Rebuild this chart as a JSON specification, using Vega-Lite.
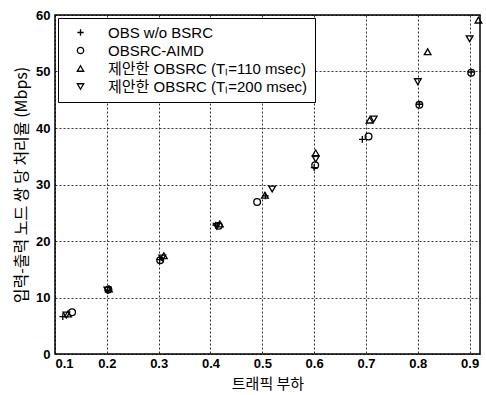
{
  "$schema": "https://vega.github.io/schema/vega-lite/v6.json",
  "autosize": "none",
  "width": 425,
  "height": 339,
  "padding": {"left": 55, "top": 15, "right": 6, "bottom": 41},
  "background": "white",
  "config": {
    "view": {"stroke": "black", "strokeWidth": 1.5},
    "font": "Liberation Sans, Noto Sans CJK KR"
  },
  "data": {
    "values": [
      {"load": 0.115, "thr": 6.6, "s": "OBS w/o BSRC"},
      {"load": 0.202, "thr": 11.2, "s": "OBS w/o BSRC"},
      {"load": 0.302, "thr": 16.7, "s": "OBS w/o BSRC"},
      {"load": 0.41, "thr": 22.8, "s": "OBS w/o BSRC"},
      {"load": 0.506, "thr": 28.0, "s": "OBS w/o BSRC"},
      {"load": 0.6, "thr": 33.0, "s": "OBS w/o BSRC"},
      {"load": 0.693, "thr": 38.0, "s": "OBS w/o BSRC"},
      {"load": 0.803, "thr": 44.2, "s": "OBS w/o BSRC"},
      {"load": 0.903, "thr": 49.9, "s": "OBS w/o BSRC"},
      {"load": 0.133, "thr": 7.4, "s": "OBSRC-AIMD"},
      {"load": 0.203, "thr": 11.4, "s": "OBSRC-AIMD"},
      {"load": 0.303, "thr": 16.6, "s": "OBSRC-AIMD"},
      {"load": 0.416, "thr": 22.7, "s": "OBSRC-AIMD"},
      {"load": 0.49, "thr": 26.9, "s": "OBSRC-AIMD"},
      {"load": 0.602, "thr": 33.4, "s": "OBSRC-AIMD"},
      {"load": 0.705, "thr": 38.5, "s": "OBSRC-AIMD"},
      {"load": 0.803, "thr": 44.1, "s": "OBSRC-AIMD"},
      {"load": 0.903, "thr": 49.8, "s": "OBSRC-AIMD"},
      {"load": 0.125, "thr": 7.1, "s": "제안한 OBSRC (Tₗ=110 msec)"},
      {"load": 0.204, "thr": 11.5, "s": "제안한 OBSRC (Tₗ=110 msec)"},
      {"load": 0.31, "thr": 17.4, "s": "제안한 OBSRC (Tₗ=110 msec)"},
      {"load": 0.418, "thr": 23.0, "s": "제안한 OBSRC (Tₗ=110 msec)"},
      {"load": 0.505, "thr": 28.1, "s": "제안한 OBSRC (Tₗ=110 msec)"},
      {"load": 0.603, "thr": 35.6, "s": "제안한 OBSRC (Tₗ=110 msec)"},
      {"load": 0.707, "thr": 41.4, "s": "제안한 OBSRC (Tₗ=110 msec)"},
      {"load": 0.819, "thr": 53.5, "s": "제안한 OBSRC (Tₗ=110 msec)"},
      {"load": 0.917, "thr": 59.1, "s": "제안한 OBSRC (Tₗ=110 msec)"},
      {"load": 0.122, "thr": 6.9, "s": "제안한 OBSRC (Tₗ=200 msec)"},
      {"load": 0.201, "thr": 11.3, "s": "제안한 OBSRC (Tₗ=200 msec)"},
      {"load": 0.307, "thr": 17.0, "s": "제안한 OBSRC (Tₗ=200 msec)"},
      {"load": 0.412, "thr": 22.6, "s": "제안한 OBSRC (Tₗ=200 msec)"},
      {"load": 0.519, "thr": 29.2, "s": "제안한 OBSRC (Tₗ=200 msec)"},
      {"load": 0.603, "thr": 34.5, "s": "제안한 OBSRC (Tₗ=200 msec)"},
      {"load": 0.715, "thr": 41.6, "s": "제안한 OBSRC (Tₗ=200 msec)"},
      {"load": 0.8, "thr": 48.2, "s": "제안한 OBSRC (Tₗ=200 msec)"},
      {"load": 0.9, "thr": 55.8, "s": "제안한 OBSRC (Tₗ=200 msec)"}
    ]
  },
  "mark": {"type": "point", "filled": false, "color": "black", "strokeWidth": 1.3, "size": 45, "opacity": 1},
  "encoding": {
    "x": {
      "field": "load", "type": "quantitative",
      "scale": {"domain": [0.1, 0.92], "nice": false, "zero": false},
      "axis": {
        "values": [0.1, 0.2, 0.3, 0.4, 0.5, 0.6, 0.7, 0.8, 0.9],
        "format": ".1f",
        "title": "트래픽 부하",
        "titleFont": "Noto Sans CJK KR", "titleFontWeight": "normal", "titleFontSize": 15, "titleColor": "black", "titlePadding": 6,
        "labelFont": "Liberation Sans", "labelFontWeight": "bold", "labelFontSize": 13, "labelColor": "black", "labelPadding": 3,
        "domain": false, "ticks": false,
        "grid": true, "gridColor": "black", "gridDash": [2, 2], "gridOpacity": 0.8
      }
    },
    "y": {
      "field": "thr", "type": "quantitative",
      "scale": {"domain": [0, 60], "nice": false},
      "axis": {
        "values": [0, 10, 20, 30, 40, 50, 60],
        "title": "입력-출력 노드 쌍 당 처리율 (Mbps)",
        "titleFont": "Noto Sans CJK KR", "titleFontWeight": "normal", "titleFontSize": 16, "titleColor": "black", "titlePadding": 6,
        "labelFont": "Liberation Sans", "labelFontWeight": "bold", "labelFontSize": 13, "labelColor": "black", "labelPadding": 5,
        "domain": false, "ticks": false,
        "grid": true, "gridColor": "black", "gridDash": [2, 2], "gridOpacity": 0.8
      }
    },
    "shape": {
      "field": "s", "type": "nominal",
      "scale": {
        "domain": ["OBS w/o BSRC", "OBSRC-AIMD", "제안한 OBSRC (Tₗ=110 msec)", "제안한 OBSRC (Tₗ=200 msec)"],
        "range": ["M-1,0H1M0,-1V1", "circle", "triangle-up", "triangle-down"]
      },
      "legend": {
        "title": null,
        "orient": "none", "legendX": 3, "legendY": 3,
        "fillColor": "white", "strokeColor": "black", "padding": 7,
        "labelFont": "Liberation Sans, Noto Sans CJK KR", "labelFontSize": 15, "labelColor": "black", "labelLimit": 400,
        "symbolStrokeColor": "black", "symbolFillColor": "transparent", "symbolSize": 40, "symbolStrokeWidth": 1.3,
        "rowPadding": 2, "labelOffset": 20, "symbolOffset": 8
      }
    }
  }
}
